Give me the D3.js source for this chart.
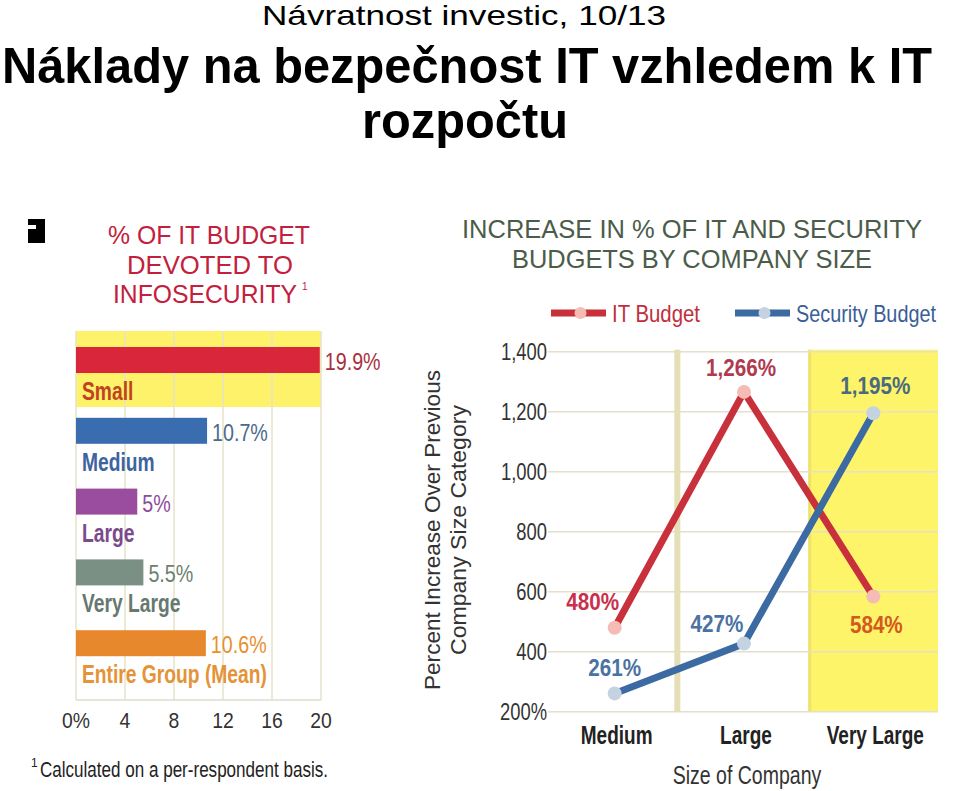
<!DOCTYPE html>
<html><head><meta charset="utf-8">
<script src="https://cdn.jsdelivr.net/npm/d3@7"></script>
<style>body{margin:0;background:#fff}svg{display:block}text{font-family:"Liberation Sans",Arial,sans-serif}</style>
</head><body>
<svg id="c" width="960" height="791"></svg>
<script>
// ---- data ----
const shareCategories = ["Small", "Medium", "Large", "Very Large", "Entire Group (Mean)"];
const shareValues = [19.9, 10.7, 5, 5.5, 10.6];
const shareLabels = ["19.9%", "10.7%", "5%", "5.5%", "10.6%"];
const shareTicks = [0, 4, 8, 12, 16, 20];
const shareTickLabels = ["0%", "4", "8", "12", "16", "20"];

const sizeCategories = ["Medium", "Large", "Very Large"];
const itBudget = [480, 1266, 584];
const securityBudget = [261, 427, 1195];
const itLabels = ["480%", "1,266%", "584%"];
const secLabels = ["261%", "427%", "1,195%"];
const yTicks = [200, 400, 600, 800, 1000, 1200, 1400];
const yTickLabels = ["200%", "400", "600", "800", "1,000", "1,200", "1,400"];

const svg = d3.select("#c");

function condense(sel, f) {
  sel.each(function () {
    const w = this.getComputedTextLength();
    d3.select(this).attr("textLength", w * f).attr("lengthAdjust", "spacingAndGlyphs");
  });
  return sel;
}
function fitText(sel, w) {
  return sel.attr("textLength", w).attr("lengthAdjust", "spacingAndGlyphs");
}

// ---- page titles ----
fitText(svg.append("text").attr("x", 262).attr("y", 25).attr("font-size", 28).attr("fill", "#000")
  .text("Návratnost investic, 10/13"), 404);
fitText(svg.append("text").attr("x", 2).attr("y", 83).attr("font-size", 50).attr("font-weight", "bold").attr("fill", "#000")
  .text("Náklady na bezpečnost IT vzhledem k IT"), 930);
fitText(svg.append("text").attr("x", 362).attr("y", 138).attr("font-size", 50).attr("font-weight", "bold").attr("fill", "#000")
  .text("rozpočtu"), 206);

// ---- left: small black mark ----
svg.append("rect").attr("x", 28).attr("y", 219).attr("width", 17).attr("height", 24).attr("fill", "#000");
svg.append("rect").attr("x", 28).attr("y", 225).attr("width", 8).attr("height", 4).attr("fill", "#fff");

// ---- left chart titles ----
const ltColor = "#c3203e";
[["% OF IT BUDGET", 108, 244, 202], ["DEVOTED TO", 127, 274, 166]].forEach(([t, x, y, w]) => {
  fitText(svg.append("text").attr("x", x).attr("y", y).attr("font-size", 26).attr("fill", ltColor).text(t), w);
});
fitText(svg.append("text").attr("x", 113).attr("y", 303).attr("font-size", 26).attr("fill", ltColor).text("INFOSECURITY"), 184);
svg.append("text").attr("x", 302).attr("y", 290).attr("font-size", 10).attr("fill", ltColor).text("1");

// ---- left bar chart ----
const xL = d3.scaleLinear().domain([0, 20]).range([76, 321]);
const yL = d3.scaleBand().domain(shareCategories).range([332, 686]).paddingInner(0).paddingOuter(0);
const barColors = ["#d9263a", "#3a6db0", "#9a4c9e", "#7b9084", "#e8882c"];
const catColors = ["#c1421f", "#3e64a0", "#7b4a8c", "#667870", "#e49338"];
const valColors = ["#a8303e", "#4a6a8c", "#8c4c9c", "#6a8070", "#e8902e"];

// yellow band for Small
svg.append("rect").attr("x", xL(0)).attr("y", yL("Small") - 1).attr("width", xL(20) - xL(0)).attr("height", 76).attr("fill", "#fdf26a");
// grid
svg.append("g").selectAll("line").data(shareTicks).join("line")
  .attr("x1", d => xL(d)).attr("x2", d => xL(d)).attr("y1", 331).attr("y2", 700)
  .attr("stroke", "#e6e2c8").attr("stroke-width", 1.5);
svg.append("line").attr("x1", xL(0)).attr("x2", xL(20)).attr("y1", 700).attr("y2", 700).attr("stroke", "#dcdcd0").attr("stroke-width", 1.5);

const barOff = 15, barH = 26;
svg.append("g").selectAll("rect").data(shareValues).join("rect")
  .attr("x", xL(0)).attr("y", (d, i) => yL(shareCategories[i]) + barOff)
  .attr("width", d => xL(d) - xL(0)).attr("height", barH)
  .attr("fill", (d, i) => barColors[i]);
condense(svg.append("g").selectAll("text").data(shareValues).join("text")
  .attr("x", d => xL(d) + 5).attr("y", (d, i) => yL(shareCategories[i]) + barOff + 23)
  .attr("font-size", 24).attr("fill", (d, i) => valColors[i]).text((d, i) => shareLabels[i]), 0.82);
condense(svg.append("g").selectAll("text").data(shareCategories).join("text")
  .attr("x", 82).attr("y", d => yL(d) + barOff + 53)
  .attr("font-size", 26).attr("font-weight", "bold").attr("fill", (d, i) => catColors[i]).text(d => d), 0.74);

condense(svg.append("g").selectAll("text").data(shareTicks).join("text")
  .attr("x", d => xL(d)).attr("y", 728).attr("text-anchor", "middle")
  .attr("font-size", 22).attr("fill", "#333").text((d, i) => shareTickLabels[i]), 0.88);

svg.append("text").attr("x", 31).attr("y", 767).attr("font-size", 12).attr("fill", "#222").text("1");
fitText(svg.append("text").attr("x", 40).attr("y", 777).attr("font-size", 22).attr("fill", "#222")
  .text("Calculated on a per-respondent basis."), 288);

// ---- right chart titles ----
const rtColor = "#4b5c49";
fitText(svg.append("text").attr("x", 462).attr("y", 238).attr("font-size", 25).attr("fill", rtColor).text("INCREASE IN % OF IT AND SECURITY"), 460);
fitText(svg.append("text").attr("x", 512).attr("y", 268).attr("font-size", 25).attr("fill", rtColor).text("BUDGETS BY COMPANY SIZE"), 360);

// ---- right line chart ----
const xR = d3.scaleBand().domain(sizeCategories).range([550, 938]);
const yR = d3.scaleLinear().domain([200, 1400]).range([711.7, 351.7]);
const cx = d => xR(d) + xR.bandwidth() / 2;

// yellow band on Very Large
svg.append("rect").attr("x", xR("Very Large")).attr("y", yR(1400) - 2).attr("width", xR.bandwidth()).attr("height", yR(200) - yR(1400) + 2).attr("fill", "#fef46a");
svg.append("line").attr("x1", xR("Very Large") + 1).attr("x2", xR("Very Large") + 1).attr("y1", yR(1400) - 2).attr("y2", yR(200)).attr("stroke", "#efe26a").attr("stroke-width", 3);
// horizontal grid
svg.append("g").selectAll("line").data(yTicks).join("line")
  .attr("x1", 548).attr("x2", 938).attr("y1", d => yR(d)).attr("y2", d => yR(d))
  .attr("stroke", "#e4e0cc").attr("stroke-width", 1.5);
// separator between Medium and Large
svg.append("rect").attr("x", xR("Large") - 5).attr("y", yR(1400) - 2).attr("width", 6).attr("height", yR(200) - yR(1400) + 2).attr("fill", "#e4dfb4");

// y axis tick labels
condense(svg.append("g").selectAll("text").data(yTicks).join("text")
  .attr("x", 547).attr("y", d => yR(d) + 8).attr("text-anchor", "end")
  .attr("font-size", 23).attr("fill", "#333").text((d, i) => yTickLabels[i]), 0.8);

// y axis title
const yt = svg.append("g").attr("transform", "translate(0,530) rotate(-90)");
fitText(yt.append("text").attr("x", 0).attr("y", 440).attr("text-anchor", "middle").attr("font-size", 22).attr("fill", "#333").text("Percent Increase Over Previous"), 320);
fitText(yt.append("text").attr("x", 0).attr("y", 466).attr("text-anchor", "middle").attr("font-size", 22).attr("fill", "#333").text("Company Size Category"), 250);

// x category labels
condense(svg.append("g").selectAll("text").data(sizeCategories).join("text")
  .attr("x", d => cx(d) + 2).attr("y", 744).attr("text-anchor", "middle")
  .attr("font-size", 25).attr("font-weight", "bold").attr("fill", "#222").text(d => d), 0.76);
condense(svg.append("text").attr("x", 747).attr("y", 784).attr("text-anchor", "middle")
  .attr("font-size", 25).attr("fill", "#333").text("Size of Company"), 0.78);

// lines
const itColor = "#c8303c", secColor = "#3c6aa2";
const lineGen = d3.line().x(d => cx(d.c)).y(d => yR(d.v));
const itData = sizeCategories.map((c, i) => ({ c, v: itBudget[i] }));
const secData = sizeCategories.map((c, i) => ({ c, v: securityBudget[i] }));
svg.append("path").datum(itData).attr("d", lineGen).attr("fill", "none").attr("stroke", itColor).attr("stroke-width", 7);
svg.append("path").datum(secData).attr("d", lineGen).attr("fill", "none").attr("stroke", secColor).attr("stroke-width", 7);
svg.append("g").selectAll("circle").data(itData).join("circle")
  .attr("cx", d => cx(d.c)).attr("cy", d => yR(d.v)).attr("r", 7).attr("fill", "#f4bcb4");
svg.append("g").selectAll("circle").data(secData).join("circle")
  .attr("cx", d => cx(d.c)).attr("cy", d => yR(d.v)).attr("r", 7).attr("fill", "#c4d2e2");

// data labels
const itLabelPos = [[-22, -18], [-3, -16], [3, 36]];
const itLabelCol = ["#c8304c", "#b03a50", "#d25a1e"];
const secLabelPos = [[0, -17], [-27, -12], [2, -19]];
const secLabelCol = ["#4a72a2", "#4a72a2", "#4b6a80"];
condense(svg.append("g").selectAll("text").data(itData).join("text")
  .attr("x", (d, i) => cx(d.c) + itLabelPos[i][0]).attr("y", (d, i) => yR(d.v) + itLabelPos[i][1])
  .attr("text-anchor", "middle").attr("font-size", 24).attr("font-weight", "bold")
  .attr("fill", (d, i) => itLabelCol[i]).text((d, i) => itLabels[i]), 0.86);
condense(svg.append("g").selectAll("text").data(secData).join("text")
  .attr("x", (d, i) => cx(d.c) + secLabelPos[i][0]).attr("y", (d, i) => yR(d.v) + secLabelPos[i][1])
  .attr("text-anchor", "middle").attr("font-size", 24).attr("font-weight", "bold")
  .attr("fill", (d, i) => secLabelCol[i]).text((d, i) => secLabels[i]), 0.86);

// legend
function legendItem(x0, x1, color, mfill, label, tx, tw, tcol) {
  svg.append("line").attr("x1", x0).attr("x2", x1).attr("y1", 313).attr("y2", 313).attr("stroke", color).attr("stroke-width", 7);
  svg.append("circle").attr("cx", (x0 + x1) / 2 + 2).attr("cy", 313).attr("r", 6).attr("fill", mfill);
  fitText(svg.append("text").attr("x", tx).attr("y", 322).attr("font-size", 24).attr("fill", tcol).text(label), tw);
}
legendItem(551, 606, itColor, "#f4bcb4", "IT Budget", 612, 88, "#c0303c");
legendItem(735, 790, secColor, "#c4d2e2", "Security Budget", 796, 140, "#3a5e98");
</script>
</body></html>
